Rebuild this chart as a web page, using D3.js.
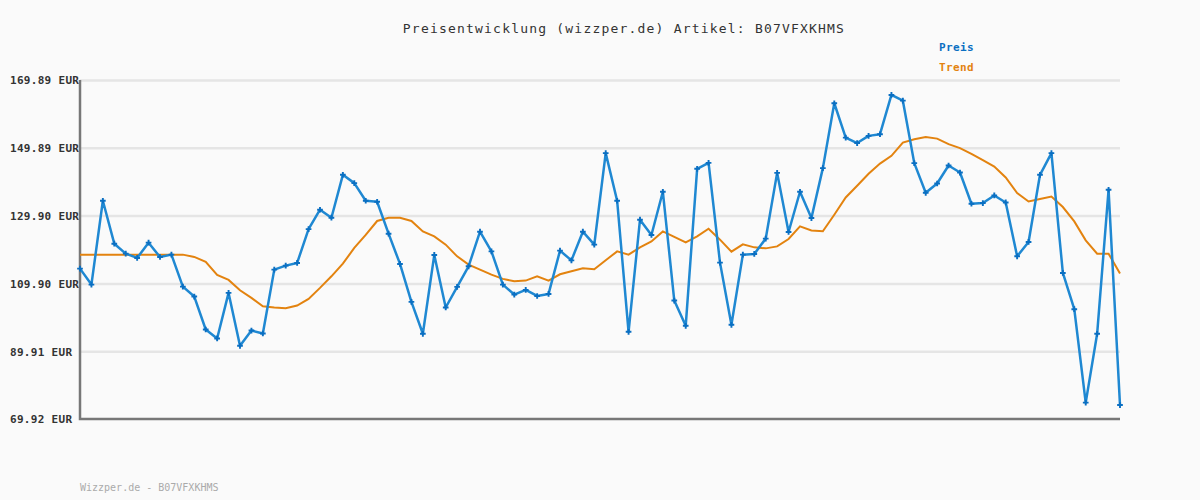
<!DOCTYPE html>
<html>
<head>
<meta charset="utf-8">
<script src="https://cdn.jsdelivr.net/npm/d3@7"></script>
<style>
  body { margin: 0; background: #fafafa; }
  svg { display: block; }
  .grid line { stroke: #e5e5e5; stroke-width: 2.5; }
  .grid .domain { display: none; }
  .y.axis .domain, .y.axis line { display: none; }
  .y.axis text { font-family: "DejaVu Sans Mono", monospace; font-weight: bold; font-size: 11px; fill: #333; letter-spacing: 0.3px; }
</style>
</head>
<body>
<div id="chart-area"></div>
<script>
// Preis pro Messpunkt
const preis = [
  114.27, 109.56, 134.28, 121.62, 118.68, 117.42, 121.92, 117.70, 118.39, 108.97,
  106.03, 96.31, 93.67, 107.10, 91.50, 96.00, 95.14, 113.97, 115.15, 115.94,
  125.90, 131.63, 129.28, 141.93, 139.48, 134.28, 133.99, 124.57, 115.65, 104.46,
  95.05, 118.30, 102.80, 108.88, 114.95, 125.16, 119.36, 109.56, 106.62, 108.00,
  106.20, 106.80, 119.56, 116.70, 125.16, 121.33, 148.32, 134.28, 95.64, 128.69,
  124.18, 136.93, 104.85, 97.40, 143.70, 145.46, 116.03, 97.70, 118.39, 118.59,
  123.10, 142.50, 125.07, 136.93, 129.18, 143.90, 163.03, 152.90, 151.30, 153.41,
  153.90, 165.48, 163.80, 145.37, 136.63, 139.37, 144.67, 142.60, 133.40, 133.60,
  135.84, 133.78, 117.90, 122.13, 141.93, 148.32, 112.99, 102.30, 74.74, 95.05,
  137.52, 74.04
];

// Trendlinie
const trend = [
  118.39, 118.39, 118.39, 118.39, 118.39, 118.39, 118.39, 118.39, 118.39, 118.39,
  117.71, 116.24, 112.41, 110.94, 107.88, 105.64, 103.17, 102.79, 102.58, 103.38,
  105.35, 108.59, 112.00, 115.74, 120.36, 124.19, 128.31, 129.28, 129.28, 128.31,
  125.25, 123.77, 121.33, 117.89, 115.44, 113.97, 112.50, 111.24, 110.53, 110.74,
  112.00, 110.74, 112.59, 113.47, 114.36, 114.06, 116.71, 119.36, 118.39, 120.54,
  122.30, 125.25, 123.60, 122.01, 123.77, 126.04, 122.80, 119.27, 121.42, 120.54,
  120.24, 120.83, 123.01, 126.72, 125.54, 125.30, 130.16, 135.25, 138.69, 142.23,
  145.23, 147.52, 151.44, 152.44, 153.11, 152.61, 150.97, 149.79, 148.11, 146.26,
  144.37, 141.14, 136.55, 134.07, 134.78, 135.54, 132.43, 128.19, 122.60, 118.68,
  118.68, 112.80
];

// Achsenbeschriftung
const yTicks = [69.92, 89.91, 109.90, 129.90, 149.89, 169.89];
const yTickLabels = ["69.92 EUR", "89.91 EUR", "109.90 EUR", "129.90 EUR", "149.89 EUR", "169.89 EUR"];

const titleText = "Preisentwicklung (wizzper.de) Artikel: B07VFXKHMS";
const legendLabels = ["Preis", "Trend"];
const footerText = "Wizzper.de - B07VFXKHMS";

const colPreis = "#1f88d2", colDot = "#0a6fc2", colTrend = "#e3830f";

// margin convention
let margin = { top: 80, right: 80, bottom: 81, left: 80 },
  width = 1200 - margin.left - margin.right,
  height = 500 - margin.top - margin.bottom;

let xScale = d3.scaleLinear().domain([0, preis.length - 1]).range([0, width]);
let yScale = d3.scaleLinear().domain([69.92, 169.89]).range([height, 0]);

let root = d3
  .select("#chart-area")
  .append("svg")
  .attr("width", 1200)
  .attr("height", 500)
  .style("background", "#fafafa");

// Titel
root
  .append("text")
  .attr("x", 624)
  .attr("y", 33)
  .attr("text-anchor", "middle")
  .style("font-family", "'DejaVu Sans Mono', monospace")
  .style("font-size", "13px")
  .style("letter-spacing", "1.2px")
  .style("fill", "#333")
  .text(titleText);

// Legende
root
  .selectAll(".legend")
  .data(legendLabels)
  .enter()
  .append("text")
  .attr("class", "legend")
  .attr("x", 939)
  .attr("y", (d, i) => 51 + i * 20)
  .style("font-family", "'DejaVu Sans Mono', monospace")
  .style("font-weight", "bold")
  .style("font-size", "11px")
  .style("letter-spacing", "0.4px")
  .style("fill", (d, i) => (i === 0 ? colDot : colTrend))
  .text(d => d);

// Fußzeile
root
  .append("text")
  .attr("x", 80)
  .attr("y", 491)
  .style("font-family", "'DejaVu Sans Mono', monospace")
  .style("font-size", "10px")
  .style("fill", "#aaa")
  .text(footerText);

let svg = root
  .append("g")
  .attr("transform", "translate(" + margin.left + "," + margin.top + ")");

// Gitterlinien
svg
  .append("g")
  .attr("class", "grid")
  .call(d3.axisLeft(yScale).tickValues(yTicks.slice(1)).tickSize(-width).tickFormat(""));

// Y-Achse Beschriftung (linksbündig)
svg
  .append("g")
  .attr("class", "y axis")
  .call(d3.axisLeft(yScale).tickValues(yTicks).tickFormat((d, i) => yTickLabels[i]))
  .selectAll("text")
  .attr("x", -70)
  .attr("dy", "0.35em")
  .attr("text-anchor", "start");

// Achsenlinien
svg
  .append("path")
  .attr("d", "M0," + yScale(169.89) + "V" + height + "H" + width)
  .attr("fill", "none")
  .attr("stroke", "#777")
  .attr("stroke-width", 2.5);

// Trend
let line = d3
  .line()
  .x((d, i) => xScale(i))
  .y(d => yScale(d));

svg
  .append("path")
  .datum(trend)
  .attr("fill", "none")
  .attr("stroke", colTrend)
  .attr("stroke-width", 2)
  .attr("d", line);

// Preis
svg
  .append("path")
  .datum(preis)
  .attr("fill", "none")
  .attr("stroke", colPreis)
  .attr("stroke-width", 2.5)
  .attr("stroke-linejoin", "round")
  .attr("d", line);

svg
  .selectAll(".dot")
  .data(preis)
  .enter()
  .append("path")
  .attr("class", "dot")
  .attr("transform", (d, i) => "translate(" + xScale(i) + "," + yScale(d) + ")")
  .attr("d", d3.symbol(d3.symbolCross, 18))
  .attr("fill", colDot);
</script>
</body>
</html>
